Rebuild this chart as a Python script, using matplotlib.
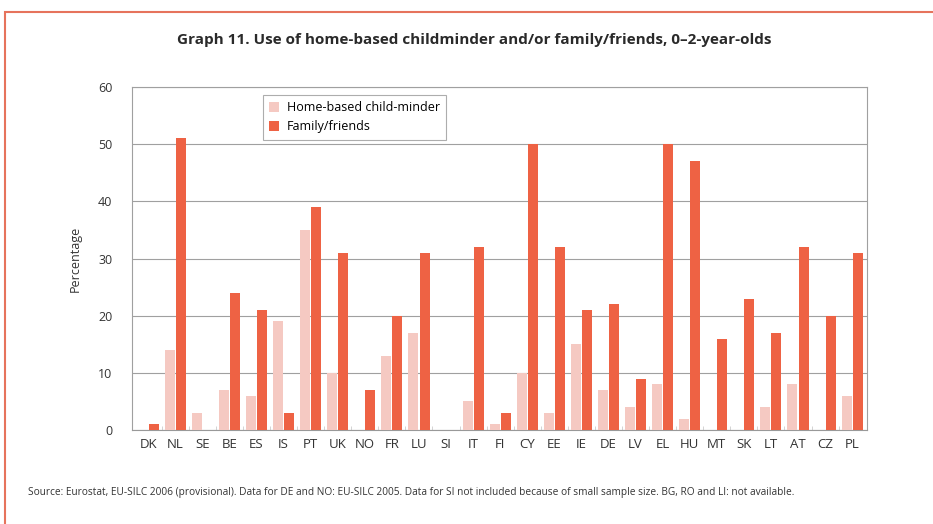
import numpy as np
import matplotlib.pyplot as plt
from matplotlib.patches import Rectangle

countries = ['DK', 'NL', 'SE', 'BE', 'ES', 'IS', 'PT', 'UK', 'NO', 'FR', 'LU', 'SI', 'IT', 'FI',
             'CY', 'EE', 'IE', 'DE', 'LV', 'EL', 'HU', 'MT', 'SK', 'LT', 'AT', 'CZ', 'PL']
home_based = [0, 14, 3, 7, 6, 19, 35, 10, 0, 13, 17, 0, 5, 1,
              10, 3, 15, 7, 4, 8, 2, 0, 0, 4, 8, 0, 6]
family_friends = [1, 51, 0, 24, 21, 3, 39, 31, 7, 20, 31, 0, 32, 3,
                  50, 32, 21, 22, 9, 50, 47, 16, 23, 17, 32, 20, 31]

c_home = '#f5c9c2'
c_fam = '#ee6244'
grid_c = '#a0a0a0'

plt.rcParams['font.family'] = ['Open Sans', 'DejaVu Sans']

fig = plt.figure(figsize=(9.33, 5.24), dpi=100)
fig.patch.set_facecolor('white')

# outer red frame (open to right/bottom like the scan)
fig.patches.append(Rectangle((5 / 933, -0.05), 1.1, 1 - 12 / 524 + 0.05,
                             transform=fig.transFigure, fill=False,
                             edgecolor='#e6735c', lw=1.5))

ax = fig.add_axes([132 / 933, 1 - 430 / 524, 735 / 933, 343 / 524])
x = np.arange(len(countries))
w = 0.37
ax.bar(x - w / 2 - 0.02, home_based, w, color=c_home, label='Home-based child-minder', zorder=3)
ax.bar(x + w / 2 + 0.02, family_friends, w, color=c_fam, label='Family/friends', zorder=3)

ax.set_ylim(0, 60)
ax.set_xlim(-0.6, len(countries) - 0.45)
ax.set_yticks(range(0, 61, 10))
ax.yaxis.grid(True, color=grid_c, lw=0.8, zorder=0)
ax.set_xticks(x)
ax.set_xticks(x[:-1] + 0.5, minor=True)
ax.set_xticklabels(countries, fontsize=9.5, color='#333333')
ax.tick_params(axis='x', length=0, pad=6)
ax.tick_params(axis='x', which='minor', length=3, direction='in', color='#cccccc')
ax.tick_params(axis='y', length=0, labelsize=9, colors='#333333', pad=14)
for s in ax.spines.values():
    s.set_color(grid_c)
    s.set_linewidth(0.8)
ax.spines['bottom'].set_color('#999999')
ax.set_ylabel('Percentage', fontsize=9, color='#333333', labelpad=12)

leg = ax.legend(loc='upper left', bbox_to_anchor=(0.17, 0.995), fontsize=9,
                frameon=True, fancybox=False, handlelength=0.8, handleheight=0.8,
                borderpad=0.5, labelspacing=0.5, handletextpad=0.6)
leg.get_frame().set_edgecolor('#999999')
leg.get_frame().set_linewidth(0.8)

fig.text(0.508, 1 - 40 / 524, 'Graph 11. Use of home-based childminder and/or family/friends, 0\u20132-year-olds',
         ha='center', va='center', fontsize=11, fontweight='bold', color='#2a2a2a')
fig.text(28 / 933, 1 - 492 / 524,
         'Source: Eurostat, EU-SILC 2006 (provisional). Data for DE and NO: EU-SILC 2005. '
         'Data for SI not included because of small sample size. BG, RO and LI: not available.',
         ha='left', va='center', fontsize=7.3, color='#333333')

fig.savefig('out.png', dpi=100)
